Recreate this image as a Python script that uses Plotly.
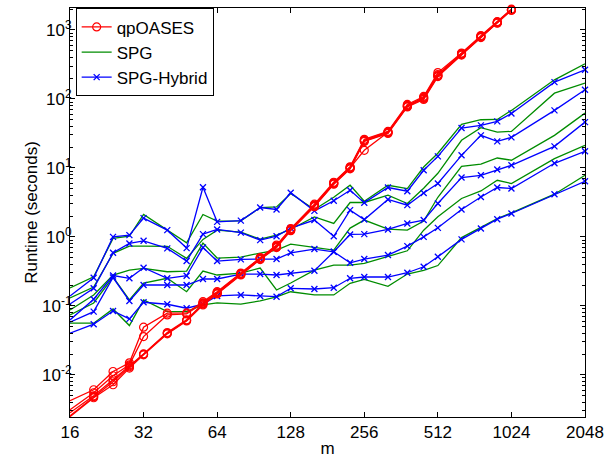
import plotly.graph_objects as go

# ---- data ----
m_all = [16, 20, 24, 28, 32, 40, 48, 56, 64, 80, 96, 112, 128, 160, 192, 224, 256,
         320, 384, 448, 512, 640, 768, 896, 1024, 1536, 2048]
m_qp = m_all[:25]

qp_1 = [0.00421, 0.00607, 0.01117, 0.01492, 0.0490, 0.0781, 0.0788, 0.1149, 0.1603, 0.2988,
        0.5007, 0.759, 1.315, 2.974, 6.19, 10.37, 25.9, 33.8, 83.1, 108.5, 241, 462, 827, 1319, 2000]
qp_2 = [0.00312, 0.00549, 0.00968, 0.01396, 0.0358, 0.0738, 0.0763, 0.110, 0.1561, 0.2939,
        0.4925, 0.734, 1.29, 2.88, 6.08, 10.2, 25.1, 33.2, 80.4, 105, 226, 454, 814, 1297, 1966]
qp_3 = [0.00282, 0.00497, 0.00847, 0.0135, 0.0201, 0.0409, 0.0625, 0.1082, 0.1535, 0.289,
        0.4843, 0.722, 1.272, 2.83, 5.98, 10.0, 17.96, 32.7, 79.1, 103, 218, 447, 800, 1275, 1966]
qp_4 = [0.00255, 0.00481, 0.00792, 0.01305, 0.0198, 0.0399, 0.0614, 0.106, 0.151, 0.2843,
        0.476, 0.710, 1.25, 2.78, 5.89, 9.86, 24.6, 32.2, 77.8, 101.5, 215, 439, 787, 1275, 1934]
qp_5 = [0.00247, 0.00465, 0.00717, 0.01251, 0.0195, 0.0392, 0.0604, 0.103, 0.1485, 0.2797,
        0.4686, 0.699, 1.23, 2.74, 5.79, 9.70, 24.2, 31.6, 76.5, 98.2, 211, 432, 774, 1254, 1934]

spg_1 = [0.1814, 0.264, 0.949, 1.02, 2.11, 1.25, 0.820, 2.11, 1.69, 1.705, 2.66, 2.72, 4.25,
         2.49, 3.75, 5.60, 3.29, 5.60, 5.02, 10.3, 16.3, 42.7, 49.9, 50.4, 68.1, 189, 322]
spg_2 = [0.130, 0.1875, 0.576, 0.734, 0.734, 0.729, 0.4875, 0.918, 1.25, 1.17, 0.927, 1.06, 1.29,
         1.95, 1.564, 3.15, 3.15, 4.01, 3.045, 5.07, 8.35, 25.1, 38.2, 33.0, 33.8, 121, 169]
spg_3 = [0.0872, 0.1437, 0.2797, 0.330, 0.3495, 0.312, 0.3194, 0.811, 0.4925, 0.509, 0.5816,
         0.643, 0.785, 0.710, 0.643, 1.34, 1.75, 1.29, 1.25, 1.69, 3.75, 10.5, 11.3, 13.9, 12.9,
         29.6, 62.2]
spg_4 = [0.0738, 0.110, 0.2615, 0.1216, 0.214, 0.2505, 0.160, 0.3194, 0.2797, 0.2988, 0.353,
         0.1696, 0.214, 0.330, 0.390, 0.390, 0.4127, 0.5143, 0.628, 1.25, 1.95, 3.60, 4.63, 6.61,
         5.93, 13.6, 21.2]
spg_5 = [0.056, 0.056, 0.0901, 0.0517, 0.1216, 0.0824, 0.0824, 0.103, 0.110, 0.106, 0.1176,
         0.1344, 0.160, 0.1437, 0.1437, 0.212, 0.2423, 0.192, 0.289, 0.327, 0.3836, 0.975, 1.369,
         1.847, 2.226, 4.15, 7.81]

hyb_1 = [0.139, 0.2555, 1.00, 1.06, 1.87, 1.25, 0.687, 5.24, 1.65, 1.72, 2.66, 2.49, 4.36,
         2.38, 3.34, 4.74, 3.13, 5.19, 4.59, 9.23, 14.7, 37.8, 41.3, 47.2, 61.6, 175, 264]
hyb_2 = [0.106, 0.1795, 0.587, 0.803, 0.876, 0.680, 0.446, 1.095, 1.28, 1.15, 0.897, 1.02, 1.34,
         1.75, 1.02, 2.44, 1.78, 3.48, 2.88, 4.33, 5.93, 15.2, 29.6, 24.2, 27.7, 68.1, 136]
hyb_3 = [0.0625, 0.1245, 0.275, 0.2505, 0.3565, 0.2505, 0.273, 0.699, 0.446, 0.4717, 0.476,
         0.476, 0.587, 0.665, 0.6075, 1.084, 1.095, 1.28, 1.564, 1.75, 3.045, 7.235, 7.81, 9.45,
         10.9, 20.5, 46.1]
hyb_4 = [0.0579, 0.0824, 0.2572, 0.1176, 0.2003, 0.2003, 0.2003, 0.2447, 0.2447, 0.289, 0.289,
         0.2797, 0.296, 0.3227, 0.6075, 0.421, 0.476, 0.544, 0.734, 1.00, 1.351, 2.49, 3.79, 5.19,
         5.02, 11.65, 17.4]
hyb_5 = [0.0401, 0.0541, 0.0843, 0.0646, 0.1126, 0.1054, 0.0922, 0.1054, 0.139, 0.1437, 0.139,
         0.1357, 0.1795, 0.1754, 0.1831, 0.2505, 0.2615, 0.2615, 0.3017, 0.3686, 0.5143, 0.918,
         1.324, 1.804, 2.18, 4.15, 6.40]

x_ticks = [16, 32, 64, 128, 256, 512, 1024, 2048]
x_tick_labels = ["16", "32", "64", "128", "256", "512", "1024", "2048"]
y_ticks = [1e-2, 1e-1, 1e0, 1e1, 1e2, 1e3]
y_tick_labels = ["10<sup>-2</sup>", "10<sup>-1</sup>", "10<sup>0</sup>",
                 "10<sup>1</sup>", "10<sup>2</sup>", "10<sup>3</sup>"]

RED = "rgb(255,0,0)"
GREEN = "rgb(0,140,0)"
BLUE = "rgb(0,0,255)"
FONT = "Liberation Sans, Arial, Helvetica, sans-serif"

fig = go.Figure()

for i, ys in enumerate([spg_1, spg_2, spg_3, spg_4, spg_5]):
    fig.add_trace(go.Scatter(
        x=m_all, y=ys, mode="lines", name="SPG", legendgroup="spg",
        showlegend=(i == 0), legendrank=2,
        line=dict(color=GREEN, width=1.3), cliponaxis=False))

for i, ys in enumerate([hyb_1, hyb_2, hyb_3, hyb_4, hyb_5]):
    fig.add_trace(go.Scatter(
        x=m_all, y=ys, mode="lines+markers", name="SPG-Hybrid", legendgroup="hyb",
        showlegend=(i == 0), legendrank=3,
        line=dict(color=BLUE, width=1.3),
        marker=dict(symbol="x-thin", size=6, line=dict(color=BLUE, width=1.3)),
        cliponaxis=False))

for i, ys in enumerate([qp_1, qp_2, qp_3, qp_4, qp_5]):
    fig.add_trace(go.Scatter(
        x=m_qp, y=ys, mode="lines+markers", name="qpOASES", legendgroup="qp",
        showlegend=(i == 0), legendrank=1,
        line=dict(color=RED, width=1.3),
        marker=dict(symbol="circle-open", size=8, color=RED, line=dict(width=1.2)),
        cliponaxis=False))

minor_y = [k * 10 ** e for e in range(-3, 4) for k in range(2, 10)]

fig.update_layout(
    width=611, height=463,
    margin=dict(l=70, r=21, t=7, b=46),
    paper_bgcolor="white", plot_bgcolor="white",
    font=dict(family=FONT, size=17, color="black"),
    showlegend=True,
    legend=dict(x=0.011, y=0.999, xanchor="left", yanchor="top",
                bgcolor="white", bordercolor="black", borderwidth=1,
                font=dict(size=17), tracegroupgap=0, itemwidth=30),
    xaxis=dict(type="log", range=[1.20412, 3.31133],
               tickmode="array", tickvals=x_ticks, ticktext=x_tick_labels,
               ticks="inside", ticklen=5, tickcolor="black",
               ticklabeloverflow="allow",
               showline=True, linecolor="black", linewidth=1, mirror="ticks",
               showgrid=False, zeroline=False,
               title=dict(text="m", font=dict(size=17), standoff=0)),
    yaxis=dict(type="log", range=[-2.612, 3.318],
               tickmode="array", tickvals=y_ticks, ticktext=y_tick_labels,
               ticks="inside", ticklen=5, tickcolor="black",
               ticklabelstandoff=-6,
               minor=dict(tickmode="array", tickvals=minor_y, ticks="inside",
                          ticklen=3, tickcolor="black", showgrid=False),
               showline=True, linecolor="black", linewidth=1, mirror="ticks",
               showgrid=False, zeroline=False,
               title=dict(text="Runtime (seconds)", font=dict(size=17), standoff=0)),
)

fig.write_html("out.html",
               config={"displayModeBar": False},
               post_script="document.body.style.margin='0px';document.body.style.padding='0px';")
